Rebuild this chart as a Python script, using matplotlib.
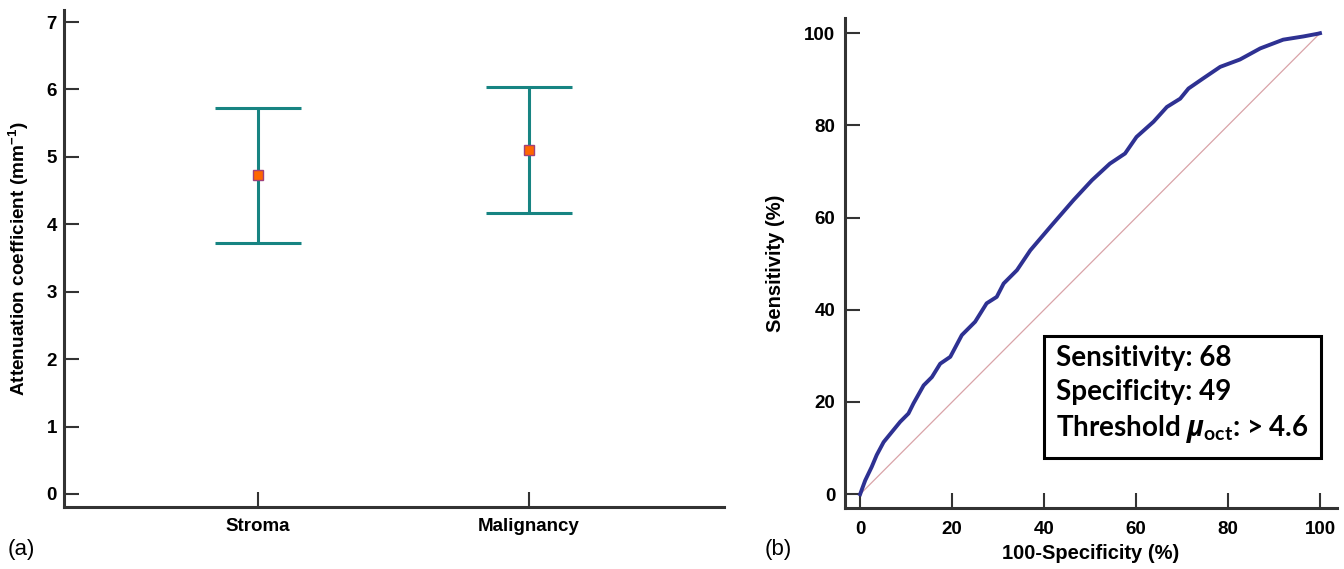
import numpy as np
import matplotlib
matplotlib.use("Agg")
import matplotlib.pyplot as plt

plt.rcParams['font.family'] = ['Liberation Sans', 'DejaVu Sans']
plt.rcParams['mathtext.fontset'] = 'custom'
plt.rcParams['mathtext.rm'] = 'Lato:bold'
plt.rcParams['mathtext.it'] = 'Open Sans:italic:bold'
plt.rcParams['mathtext.bf'] = 'Liberation Sans:bold'

# (a) attenuation coefficient, mean and range
groups = ['Stroma', 'Malignancy']
means = [4.73, 5.10]
lower = [3.72, 4.17]
upper = [5.73, 6.04]

# (b) ROC curve
fpr = [0, 0.36, 1.1, 2.5, 3.6, 5.1, 6.9, 8.7, 10.5, 11.6, 13.8, 15.6, 17.4, 19.6,
       22.1, 25.0, 27.5, 29.7, 31.2, 34.1, 37.0, 41.7, 46.4, 50.4, 54.3, 57.6,
       60.1, 63.8, 66.7, 69.6, 71.4, 74.6, 78.3, 82.6, 87.0, 92.0, 96.4, 99.6, 100]
tpr = [0, 1.0, 3.0, 5.9, 8.5, 11.3, 13.5, 15.7, 17.5, 19.7, 23.6, 25.4, 28.3, 29.8,
       34.5, 37.4, 41.4, 42.8, 45.7, 48.6, 52.9, 58.4, 63.8, 68.1, 71.7, 73.9,
       77.5, 80.8, 84.0, 85.8, 88.0, 90.2, 92.7, 94.3, 96.7, 98.6, 99.3, 99.9, 100]
stats_lines = ['Sensitivity: 68', 'Specificity: 49', r'Threshold $\mu_{\mathrm{oct}}$: > 4.6']

teal = '#178482'
spine_col = '#333333'

fig = plt.figure(figsize=(13.44, 5.69), dpi=100)
ax1 = fig.add_axes([64/1344, 1-507/569, (724-64)/1344, (507-10)/569])
ax2 = fig.add_axes([845/1344, 1-508/569, (1337-845)/1344, (508-18)/569])

for ax in (ax1, ax2):
    for s in ['top', 'right']:
        ax.spines[s].set_visible(False)
    for s in ['left', 'bottom']:
        ax.spines[s].set_color(spine_col)
        ax.spines[s].set_linewidth(2.2)
    ax.tick_params(direction='in', length=10.5, width=1.5, color=spine_col,
                   labelsize=13.5)

# left panel
xpos = np.arange(1, len(groups) + 1)
m = np.array(means)
yerr = [m - np.array(lower), np.array(upper) - m]
ax1.errorbar(xpos, m, yerr=yerr, fmt='none', ecolor=teal, elinewidth=2.2,
             capsize=31, capthick=2.2, zorder=2)
ax1.plot(xpos, m, 's', ms=7, mfc='#FF6600', mec='#A0407A', mew=1, zorder=3)
ax1.set_xlim(0.284, 2.72)
ax1.set_ylim(-0.193, 7.178)
ax1.set_xticks(xpos)
ax1.set_xticklabels(groups, fontweight='bold', fontsize=13.5)
ax1.set_yticks(range(0, 8))
ax1.set_yticklabels([str(v) for v in range(0, 8)], fontweight='bold')
ax1.tick_params(axis='y', pad=5)
ax1.tick_params(axis='x', pad=8)
ax1.set_ylabel('Attenuation coefficient (mm$^{\\mathbf{-1}}$)', fontweight='bold',
               fontsize=13.7, labelpad=11)
fig.text(8/1344, 1-550/569, '(a)', fontsize=16, va='center', ha='left')

# right panel
ax2.plot([0, 100], [0, 100], color='#D9A3A8', lw=0.9, zorder=1)
ax2.plot(fpr, tpr, color='#2E3192', lw=2.8, zorder=2)
ax2.set_xlim(-3.3, 103.7)
ax2.set_ylim(-3.0, 103.3)
ax2.set_xticks(range(0, 101, 20))
ax2.set_yticks(range(0, 101, 20))
ax2.set_xticklabels([str(v) for v in range(0, 101, 20)], fontweight='bold')
ax2.set_yticklabels([str(v) for v in range(0, 101, 20)], fontweight='bold')
ax2.tick_params(axis='y', pad=7)
ax2.tick_params(axis='x', pad=9)
ax2.set_xlabel('100-Specificity (%)', fontweight='bold', fontsize=14.5, labelpad=5)
ax2.set_ylabel('Sensitivity (%)', fontweight='bold', fontsize=14.5, labelpad=14)
fig.text(765/1344, 1-550/569, '(b)', fontsize=16, va='center', ha='left')

ax2.text(42.6, 21.5, '\n'.join(stats_lines), fontsize=20, fontweight='bold',
         family=['Lato', 'DejaVu Sans'], va='center', ha='left', linespacing=1.38,
         bbox=dict(boxstyle='square,pad=0.45', fc='white', ec='black', lw=2.2))

fig.savefig('out.png', dpi=100)
